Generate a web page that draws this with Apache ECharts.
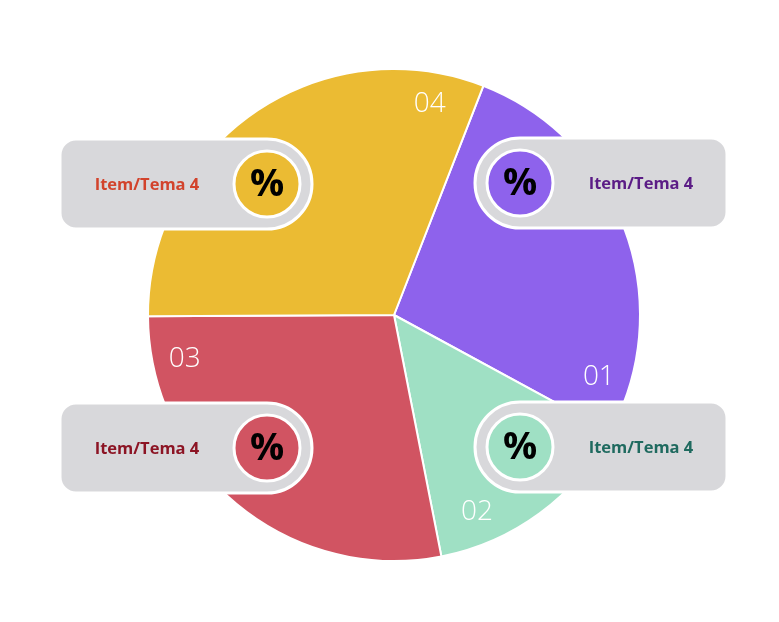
<!DOCTYPE html>
<html><head><meta charset="utf-8">
<script src="https://cdn.jsdelivr.net/npm/echarts@6/dist/echarts.min.js"></script>
<style>html,body{margin:0;padding:0;background:#fff}#c{width:779px;height:622px}</style>
</head><body><div id="c"></div>
<script>
// Data
const sliceNames = ['01', '02', '03', '04'];
const sliceValues = [27, 14, 28, 31];
const sliceColors = ['#8e62ec', '#9fe0c4', '#d15462', '#ebbb33'];
const boxTexts = ['Item/Tema 4', 'Item/Tema 4', 'Item/Tema 4', 'Item/Tema 4'];
const boxTextColors = ['#5b1c86', '#1f6a5f', '#8c1424', '#d2432c'];
const boxSymbol = '%';
const labelTail = 6.5; // share of each slice (in value units) reserved for its number label

const chart = echarts.init(document.getElementById('c'), null, {renderer: 'canvas'});

const cx = 394, cy = 315, R = 246;
const startAngle = 68.7;

const labelData = [];
sliceValues.forEach((v, i) => {
  labelData.push({value: v - labelTail, name: '', label: {show: false}});
  labelData.push({value: labelTail, name: sliceNames[i]});
});

const boxes = [
  {side: 'right', ccx: 520, ccy: 183, idx: 0},
  {side: 'right', ccx: 520, ccy: 447, idx: 1},
  {side: 'left', ccx: 267, ccy: 448, idx: 2},
  {side: 'left', ccx: 267, ccy: 184, idx: 3}
];
const graphics = [];
boxes.forEach(b => {
  const h = 90, w = 252;
  const x = b.side === 'right' ? b.ccx - 45 : b.ccx + 45 - w;
  graphics.push({
    type: 'rect', z: 100,
    shape: {x: x, y: b.ccy - 45, width: w, height: h,
      r: b.side === 'right' ? [45, 16, 16, 45] : [16, 45, 45, 16]},
    style: {fill: '#d8d8db', stroke: '#ffffff', lineWidth: 3}
  });
  graphics.push({
    type: 'circle', z: 101,
    shape: {cx: b.ccx, cy: b.ccy, r: 33},
    style: {fill: sliceColors[b.idx], stroke: '#ffffff', lineWidth: 3}
  });
  graphics.push({
    type: 'text', z: 102,
    x: b.ccx, y: b.ccy + 1,
    style: {text: boxSymbol, fill: '#000', font: 'bold 38px "Open Sans", sans-serif',
      align: 'center', verticalAlign: 'middle'}
  });
  graphics.push({
    type: 'text', z: 102,
    x: b.side === 'right' ? b.ccx + 121 : b.ccx - 120, y: b.ccy + 1,
    style: {text: boxTexts[b.idx], fill: boxTextColors[b.idx],
      font: 'bold 16.5px "Open Sans", sans-serif', align: 'center', verticalAlign: 'middle'}
  });
});

chart.setOption({
  animation: false,
  series: [
    {
      type: 'pie', center: [cx, cy], radius: [0, R], startAngle: startAngle,
      clockwise: true, silent: true,
      label: {show: false}, labelLine: {show: false},
      itemStyle: {borderColor: '#ffffff', borderWidth: 2},
      data: sliceValues.map((v, i) => ({value: v, name: sliceNames[i], itemStyle: {color: sliceColors[i]}}))
    },
    {
      type: 'pie', center: [cx, cy], radius: [176, R], startAngle: startAngle,
      clockwise: true, silent: true,
      itemStyle: {color: 'rgba(0,0,0,0)', borderWidth: 0},
      label: {show: true, position: 'inside', formatter: '{b}', color: '#ffffff',
        fontSize: 28, fontWeight: 300, fontFamily: 'Open Sans, sans-serif'},
      labelLine: {show: false},
      data: labelData
    }
  ],
  graphic: graphics
});
</script></body></html>
